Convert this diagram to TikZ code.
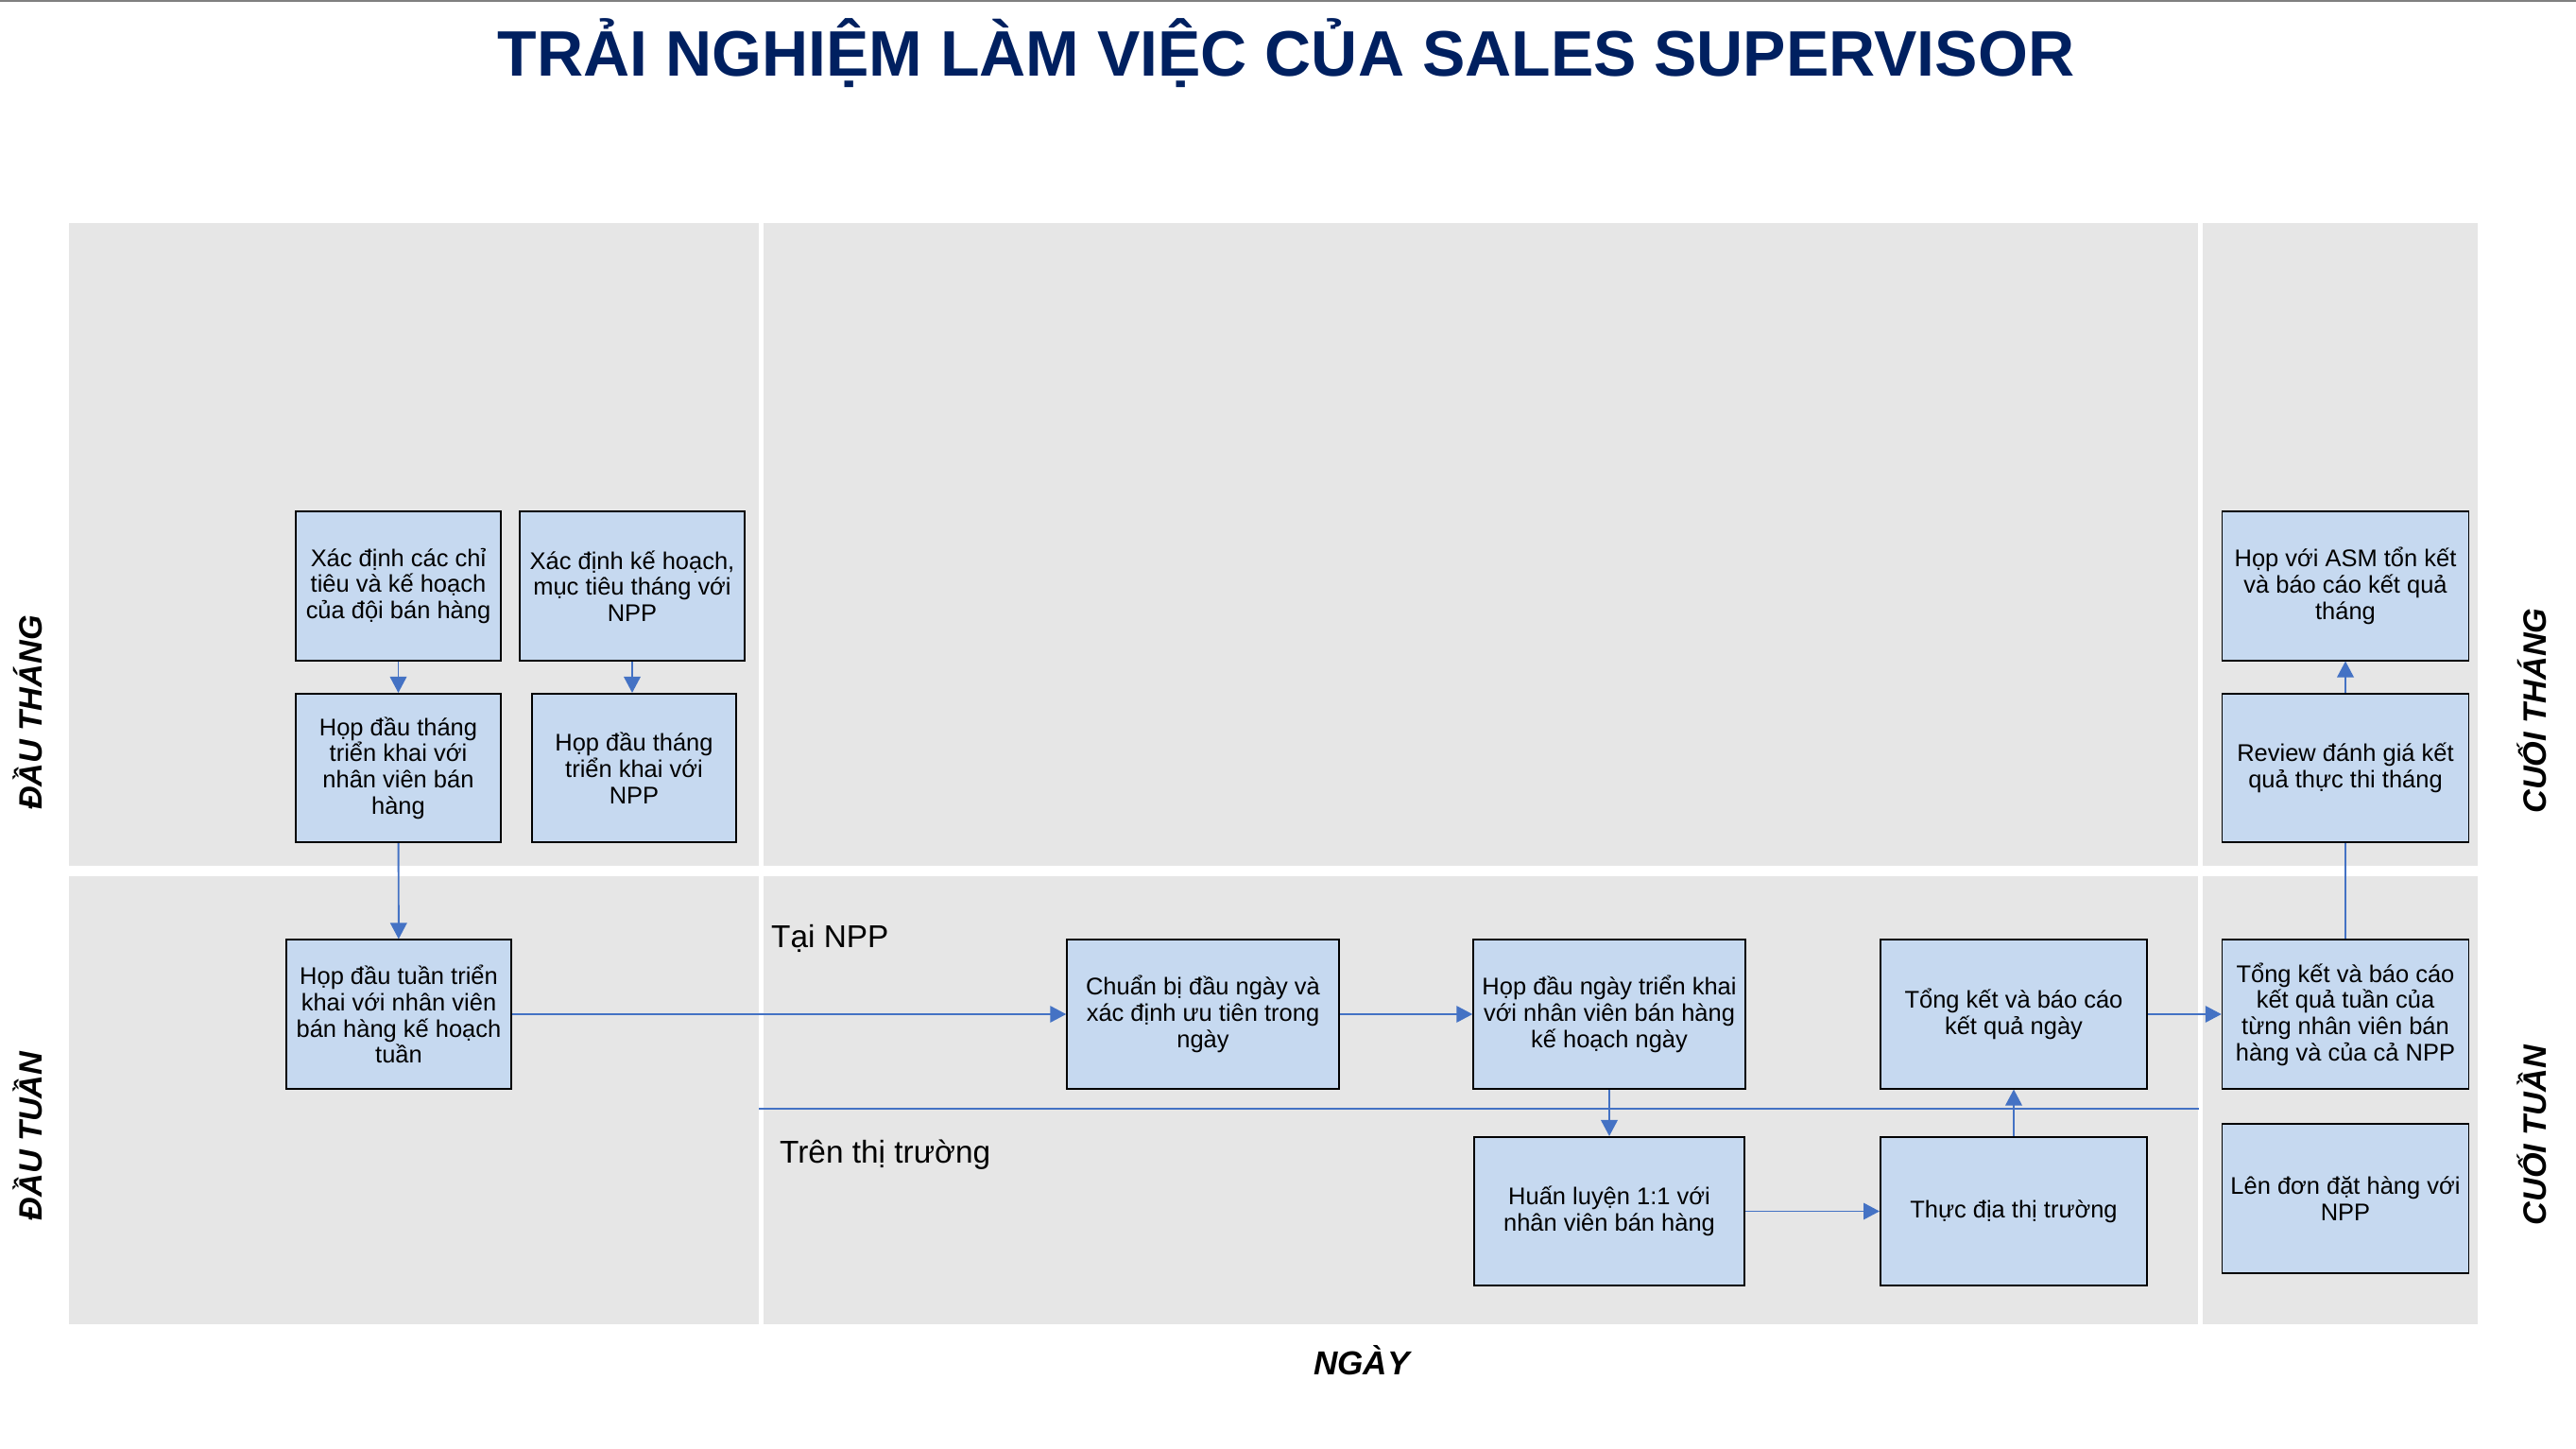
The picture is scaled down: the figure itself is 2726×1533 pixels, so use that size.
\documentclass[tikz,border=0pt]{standalone}
\usepackage{fontspec}
\setmainfont{Liberation Sans}
\usetikzlibrary{arrows.meta}
\definecolor{panelgray}{RGB}{230,230,230}
\definecolor{taskblue}{RGB}{198,217,240}
\definecolor{flowblue}{RGB}{68,114,196}
\definecolor{titlenavy}{RGB}{0,32,96}
\begin{document}
\begin{tikzpicture}[x=0.02cm,y=-0.02cm,
    task/.style={shape=rectangle,draw=black,line width=0.9pt,fill=taskblue,align=center,
        minimum height=3.15cm,inner sep=1pt,font=\fontsize{14.5}{15.8}\selectfont},
    flow/.style={draw=flowblue,line width=1.1pt,-{Triangle[length=0.34cm,width=0.35cm]}},
    link/.style={draw=flowblue,line width=1.1pt},
    phase/.style={font=\fontsize{19.5}{22}\selectfont\bfseries\itshape,rotate=90},
    place/.style={anchor=base west,font=\fontsize{19}{22}\selectfont}]
    \useasboundingbox (0,0) rectangle (2726,1533);
    \draw[gray,line width=1.5pt] (0,0.5) -- (2726,0.5);

    % panels
    \fill[panelgray] (73,236) rectangle (803,916);
    \fill[panelgray] (808,236) rectangle (2326,916);
    \fill[panelgray] (2331,236) rectangle (2622,916);
    \fill[panelgray] (73,927) rectangle (803,1401);
    \fill[panelgray] (808,927) rectangle (2326,1401);
    \fill[panelgray] (2331,927) rectangle (2622,1401);

    \node[anchor=base,text=titlenavy,font=\fontsize{38.7}{44}\selectfont\bfseries] (title) at (1361,81) {TRẢI NGHIỆM LÀM VIỆC CỦA SALES SUPERVISOR};
    \node[phase] (dauthang) at (29,754) {ĐẦU THÁNG};
    \node[phase] (dautuan) at (29,1202) {ĐẦU TUẦN};
    \node[phase] (cuoithang) at (2679,752) {CUỐI THÁNG};
    \node[phase] (cuoituan) at (2679,1201) {CUỐI TUẦN};
    \node[anchor=base,font=\fontsize{20}{22}\selectfont\bfseries\itshape] (ngay) at (1441,1454) {NGÀY};

    \node[place] (tainpp) at (810,1002) {Tại NPP};
    \node[place] (thitruong) at (819,1230) {Trên thị trường};
    \coordinate (np-w) at (803,1173);
    \coordinate (np-e) at (2327,1173);
    \draw[link] (np-w) -- (np-e);

    % tasks
    \node[task,minimum width=4.34cm] (A1) at (421.5,620) {Xác định các chỉ\\tiêu và kế hoạch\\của đội bán hàng};
    \node[task,minimum width=4.76cm] (A2) at (669,620) {Xác định kế hoạch,\\mục tiêu tháng với\\NPP};
    \node[task,minimum width=4.34cm] (B1) at (421.5,812.5) {Họp đầu tháng\\triển khai với\\nhân viên bán\\hàng};
    \node[task,minimum width=4.32cm] (B2) at (671,812.5) {Họp đầu tháng\\triển khai với\\NPP};
    \node[task,minimum width=4.76cm] (C) at (422,1073) {Họp đầu tuần triển\\khai với nhân viên\\bán hàng kế hoạch\\tuần};
    \node[task,minimum width=5.76cm] (D) at (1273,1073) {Chuẩn bị đầu ngày và\\xác định ưu tiên trong\\ngày};
    \node[task,minimum width=5.76cm] (E) at (1703,1073) {Họp đầu ngày triển khai\\với nhân viên bán hàng\\kế hoạch ngày};
    \node[task,minimum width=5.65cm] (F) at (2131,1073) {Tổng kết và báo cáo\\kết quả ngày};
    \node[task,minimum width=5.72cm] (G) at (1703,1281.5) {Huấn luyện 1:1 với\\nhân viên bán hàng};
    \node[task,minimum width=5.65cm] (H) at (2131,1281.5) {Thực địa thị trường};
    \node[task,minimum width=5.22cm] (I) at (2482,1073) {Tổng kết và báo cáo\\kết quả tuần của\\từng nhân viên bán\\hàng và của cả NPP};
    \node[task,minimum width=5.22cm] (J) at (2482,1268) {Lên đơn đặt hàng với\\NPP};
    \node[task,minimum width=5.22cm] (K) at (2482,812.5) {Review đánh giá kết\\quả thực thi tháng};
    \node[task,minimum width=5.22cm] (L) at (2482,620) {Họp với ASM tổn kết\\và báo cáo kết quả\\tháng};

    \path (A1) edge[flow] (B1);
    \path (A2) edge[flow] (A2 |- B2.north);
    \path (B1) edge[flow] (C);
    \path (C) edge[flow] (D);
    \path (D) edge[flow] (E);
    \path (E) edge[flow] (G);
    \path (G) edge[flow] (H);
    \path (H) edge[flow] (F);
    \path (F) edge[flow] (I);
    \path (I) edge[link] (K);
    \path (K) edge[flow] (L);
\end{tikzpicture}
\end{document}
